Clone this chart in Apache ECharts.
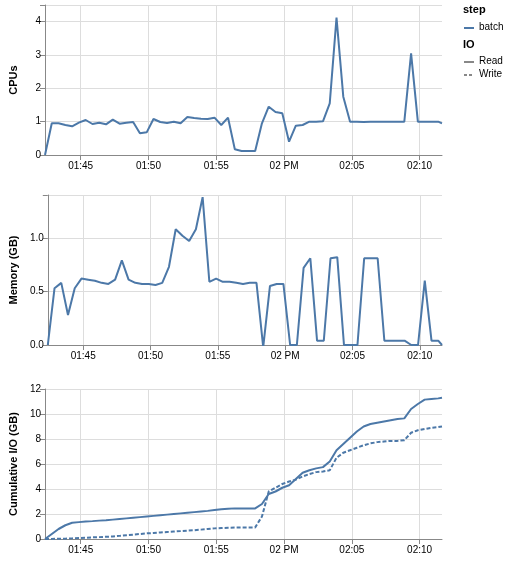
<!DOCTYPE html>
<html><head><meta charset="utf-8">
<script src="https://cdn.jsdelivr.net/npm/echarts@6/dist/echarts.min.js"></script>
<style>html,body{margin:0;padding:0;background:#fff}#c{width:509px;height:562px}</style>
</head><body><div id="c"></div>
<script>
// minutes after 01:40, sampled every 30 s starting 01:42:22
const startMin = 2.37, stepMin = 0.5, endMin = 31.65;
const tickMinutes = [5, 10, 15, 20, 25, 30];
const tickLabels = ['01:45', '01:50', '01:55', '02 PM', '02:05', '02:10'];
const cpu = [0,0.95,0.95,0.9,0.86,0.97,1.05,0.93,0.97,0.92,1.06,0.94,0.97,0.99,0.65,0.68,1.08,0.99,0.96,1.0,0.95,1.14,1.11,1.09,1.08,1.12,0.9,1.12,0.17,0.12,0.12,0.12,0.95,1.45,1.29,1.25,0.4,0.88,0.9,1.0,1.0,1.01,1.55,4.12,1.75,1.0,1.0,0.99,1.0,1.0,1.0,1.0,1.0,1.0,3.05,1.0,1.0,1.0,1.0,0.95];
const memory = [0,0.53,0.58,0.28,0.53,0.62,0.61,0.6,0.58,0.57,0.61,0.79,0.61,0.58,0.57,0.57,0.56,0.58,0.73,1.08,1.02,0.97,1.08,1.38,0.59,0.62,0.59,0.59,0.58,0.57,0.58,0.58,-0.02,0.55,0.57,0.57,0,0,0.72,0.81,0.04,0.04,0.81,0.82,0,0,0,0.81,0.81,0.81,0.04,0.04,0.04,0.04,0,0,0.6,0.04,0.04,0];
const ioRead = [0,0.4,0.8,1.1,1.3,1.35,1.4,1.43,1.47,1.5,1.55,1.6,1.65,1.7,1.75,1.8,1.85,1.9,1.95,2.0,2.05,2.1,2.15,2.2,2.25,2.32,2.38,2.42,2.45,2.45,2.45,2.45,2.8,3.6,3.8,4.1,4.3,4.8,5.3,5.5,5.65,5.75,6.2,7.1,7.6,8.1,8.6,9.0,9.2,9.3,9.4,9.5,9.6,9.65,10.4,10.8,11.15,11.2,11.25,11.3];
const ioWrite = [0,0.01,0.02,0.03,0.05,0.08,0.1,0.13,0.15,0.18,0.2,0.25,0.3,0.35,0.4,0.45,0.48,0.52,0.56,0.6,0.63,0.67,0.7,0.75,0.8,0.85,0.88,0.9,0.92,0.93,0.93,0.93,1.8,3.8,4.1,4.4,4.6,4.75,5.0,5.2,5.35,5.4,5.5,6.5,6.9,7.1,7.3,7.5,7.65,7.75,7.8,7.85,7.85,7.9,8.5,8.7,8.8,8.9,8.95,9.0];

const times = cpu.map((_, i) => i < cpu.length - 1 ? startMin + i * stepMin : endMin);
const pairs = arr => arr.map((v, i) => [times[i], v]);
const BLUE = '#4c78a8', GRID = '#ddd', AX = '#888', FONT = 'Liberation Sans, Arial, sans-serif';

function xAxis(idx) {
  return {
    type: 'value', gridIndex: idx, min: startMin, max: endMin,
    axisLine: {show: true, lineStyle: {color: AX}},
    axisTick: {show: true, customValues: tickMinutes, length: 5, lineStyle: {color: AX}},
    axisLabel: {customValues: tickMinutes, color: '#000', fontSize: 10, fontFamily: FONT, margin: 6,
      formatter: v => tickLabels[tickMinutes.indexOf(Math.round(v))] || ''},
    splitLine: {show: true, lineStyle: {color: GRID}}
  };
}
function yAxis(idx, name, max, interval, fmt) {
  return {
    type: 'value', gridIndex: idx, min: 0, max: max, interval: interval,
    name: name, nameLocation: 'middle', nameGap: 26, nameRotate: 90,
    nameTextStyle: {fontWeight: 'bold', fontSize: 11, fontFamily: FONT, color: '#000'},
    axisLine: {show: true, lineStyle: {color: AX}},
    axisTick: {show: true, length: 5, lineStyle: {color: AX}},
    axisLabel: {color: '#000', fontSize: 10, fontFamily: FONT, margin: 4, formatter: fmt},
    splitLine: {show: true, lineStyle: {color: GRID}}
  };
}
function line(idx, data, dashed) {
  return {type: 'line', xAxisIndex: idx, yAxisIndex: idx, data: pairs(data), symbol: 'none',
    lineStyle: {color: BLUE, width: 2, type: dashed ? [4, 2] : 'solid'}, clip: true, animation: false};
}
const chart = echarts.init(document.getElementById('c'), null, {renderer: 'canvas'});
chart.setOption({
  animation: false,
  grid: [
    {left: 42, top: 5, width: 400, height: 150},
    {left: 42, top: 195, width: 400, height: 150},
    {left: 42, top: 389, width: 400, height: 150}
  ],
  xAxis: [xAxis(0), xAxis(1), xAxis(2)],
  yAxis: [
    yAxis(0, 'CPUs', 4.5, 1, v => Number.isInteger(v) ? v : ''),
    yAxis(1, 'Memory (GB)', 1.4, 0.5, v => (v * 10) % 5 === 0 ? v.toFixed(1) : ''),
    yAxis(2, 'Cumulative I/O (GB)', 12, 2)
  ],
  series: [line(0, cpu), line(1, memory), line(2, ioRead), line(2, ioWrite, true)],
  graphic: [
    {type: 'text', left: 463, top: 4, style: {text: 'step', font: 'bold 11px ' + FONT, fill: '#000'}},
    {type: 'line', shape: {x1: 464, y1: 28, x2: 474, y2: 28}, style: {stroke: BLUE, lineWidth: 2}},
    {type: 'text', left: 479, top: 22, style: {text: 'batch', font: '10px ' + FONT, fill: '#000'}},
    {type: 'text', left: 463, top: 39, style: {text: 'IO', font: 'bold 11px ' + FONT, fill: '#000'}},
    {type: 'line', shape: {x1: 464, y1: 62, x2: 474, y2: 62}, style: {stroke: '#888', lineWidth: 2}},
    {type: 'text', left: 479, top: 56, style: {text: 'Read', font: '10px ' + FONT, fill: '#000'}},
    {type: 'line', shape: {x1: 464, y1: 75, x2: 474, y2: 75}, style: {stroke: '#888', lineWidth: 2, lineDash: [3, 2]}},
    {type: 'text', left: 479, top: 69, style: {text: 'Write', font: '10px ' + FONT, fill: '#000'}}
  ]
});
</script></body></html>
